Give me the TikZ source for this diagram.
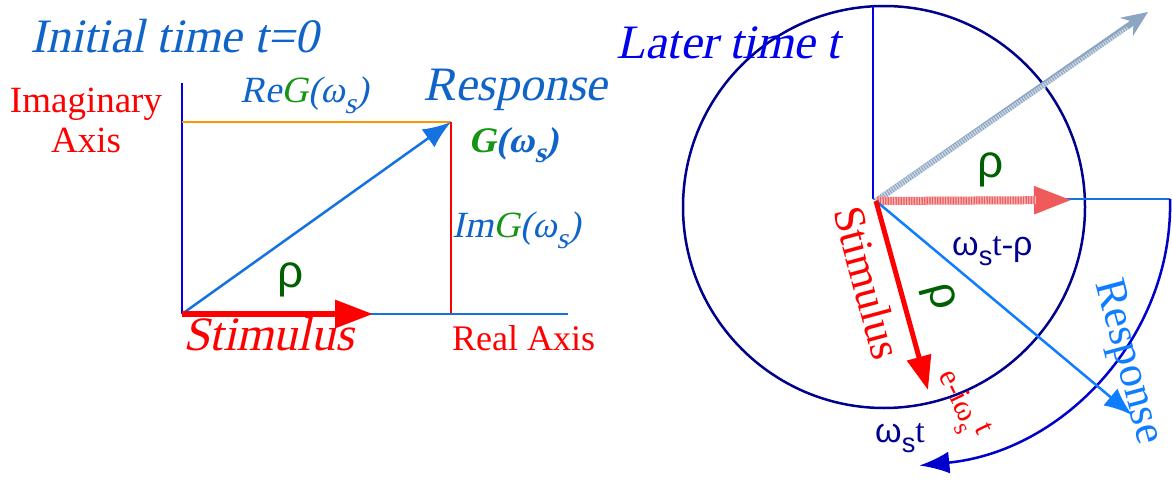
\documentclass[tikz,border=0pt]{standalone}
\usepackage{fontspec}
\setmainfont{Liberation Serif}
\newfontfamily\itserif{Liberation Serif}[FakeSlant=0.22]
\newfontfamily\sansf{Liberation Sans}
\usepackage{graphicx}
\usetikzlibrary{arrows.meta}
\definecolor{tblue}{RGB}{16,100,200}
\definecolor{gG}{RGB}{20,150,20}
\definecolor{dgreen}{RGB}{0,95,0}
\definecolor{pblue}{RGB}{0,0,235}
\definecolor{navy}{RGB}{0,0,140}
\definecolor{lblue}{RGB}{20,115,225}
\definecolor{rblue}{RGB}{15,125,255}
\definecolor{orng}{RGB}{255,150,0}
\definecolor{arcblue}{RGB}{0,0,205}
\definecolor{pinkred}{RGB}{240,90,90}
\definecolor{grayb}{RGB}{140,165,195}
\newcommand\fsz[1]{\fontsize{#1}{#1}\selectfont}
\newcommand\subs[1]{\raisebox{-0.3em}{\scalebox{0.8}{#1}}}
\begin{document}
\begin{tikzpicture}[x=1pt,y=-1pt,
  lbl/.style={inner sep=0pt, anchor=base west},
  ctr/.style={inner sep=0pt},
  ax/.style={line width=2.5pt},
  texture/.style={white, opacity=0.55, dash pattern=on 1.3pt off 1.3pt}
]
\useasboundingbox (0,0) rectangle (1172,479);

% ---------- left panel ----------
\coordinate (A0) at (182,314);
\coordinate (Atop) at (182,83);
\coordinate (Aor) at (182,122);
\coordinate (G) at (451,122);
\coordinate (Gfoot) at (451,314);
\coordinate (Rend) at (568,314);
\coordinate (Sx) at (373,314);

\draw[pblue, ax] (Atop) -- (A0);
\draw[orng, ax] (Aor) -- (G);
\draw[red, ax] (G) -- (Gfoot);
\draw[lblue, ax] (A0) -- (Rend);
\draw[lblue, ax, -{Latex[length=28pt,width=22pt]}] (A0) -- (G);
\draw[red, line width=6pt, -{Triangle[length=38pt,width=27pt]}] (A0) -- (Sx);

\node[lbl, tblue] (title) at (30,52) {\fsz{48}\itserif Initial time t=0};
\node[inner sep=0pt, anchor=base, red] (im1) at (86,112) {\fsz{37}Imaginary};
\node[inner sep=0pt, anchor=base, red] (im2) at (86,152) {\fsz{37}Axis};
\node[lbl, tblue] (reg) at (240,102) {\fsz{37}\itserif Re\textcolor{gG}{G}(ω\subs{s})};
\node[lbl, tblue] (resp) at (423,100) {\fsz{48}\itserif Response};
\node[lbl, tblue] (gw) at (468,152) {\fsz{36}\itserif\bfseries \textcolor{gG}{G}(ω\subs{s})};
\node[lbl, tblue] (img) at (452,237) {\fsz{37}\itserif Im\textcolor{gG}{G}(ω\subs{s})};
\node[ctr, dgreen] (rho1) at (291,280) {\sansf\fsz{46}ρ};
\node[lbl, red] (stim1) at (183,350) {\fsz{48}\itserif Stimulus};
\node[lbl, red] (real) at (452,350) {\fsz{36}Real Axis};

% ---------- right panel ----------
\coordinate (O) at (876,201);
\coordinate (C) at (884,207);
\coordinate (V) at (873,6);
\coordinate (H0) at (873,199);
\coordinate (H1) at (1170,199);
\coordinate (Gt) at (1148,12);
\coordinate (Gb) at (1128,29);
\coordinate (Pt) at (1072,200);
\coordinate (Pb) at (1036,200);
\coordinate (St) at (928,390);
\coordinate (Rt) at (1132,415);

\draw[navy, line width=2.5pt] (C) circle[radius=201pt];
\draw[pblue, ax] (V) -- (H0);
\draw[lblue, ax] (H0) -- (H1);
\draw[arcblue, ax, -{Latex[length=30pt,width=22pt]}]
  (H1) arc[start angle=1.3, end angle=-84, x radius=280pt, y radius=262pt];

\draw[grayb, line width=6pt, -{Stealth[length=26pt,width=22pt]}] (O) -- (Gt);
\draw[texture, line width=6pt] (O) -- (Gb);
\draw[pinkred, line width=8pt, -{Triangle[length=38pt,width=26pt]}] (O) -- (Pt);
\draw[texture, line width=8pt] (O) -- (Pb);
\draw[rblue, line width=2.5pt, -{Latex[length=28pt,width=22pt]}] (O) -- (Rt);
\draw[red, line width=5pt, -{Triangle[length=34pt,width=24pt]}] (O) -- (St);

\node[lbl, pblue] (later) at (616,58) {\fsz{48}\itserif Later time t};
\node[ctr, dgreen] (rho2) at (991,170) {\sansf\fsz{46}ρ};
\node[lbl, navy] (wtr) at (952,255) {\fsz{34}{\sansf ω\subs{s}}t-{\sansf ρ}};
\node[ctr, dgreen, rotate=-75] (rho3) at (938,297) {\sansf\fsz{46}ρ};
\node[ctr, red, rotate=-75] (stim2) at (868,283) {\fsz{44}Stimulus};
\node[ctr, rblue, rotate=-75] (resp2) at (1127,362) {\fsz{44}Response};
\node[ctr, red, rotate=-64] (expo) at (962,404) {\fsz{31}e-iω\subs{s}\raisebox{.3em}{t}};
\node[lbl, navy] (wt) at (875,442) {\fsz{34}{\sansf ω\subs{s}}t};
\end{tikzpicture}
\end{document}
